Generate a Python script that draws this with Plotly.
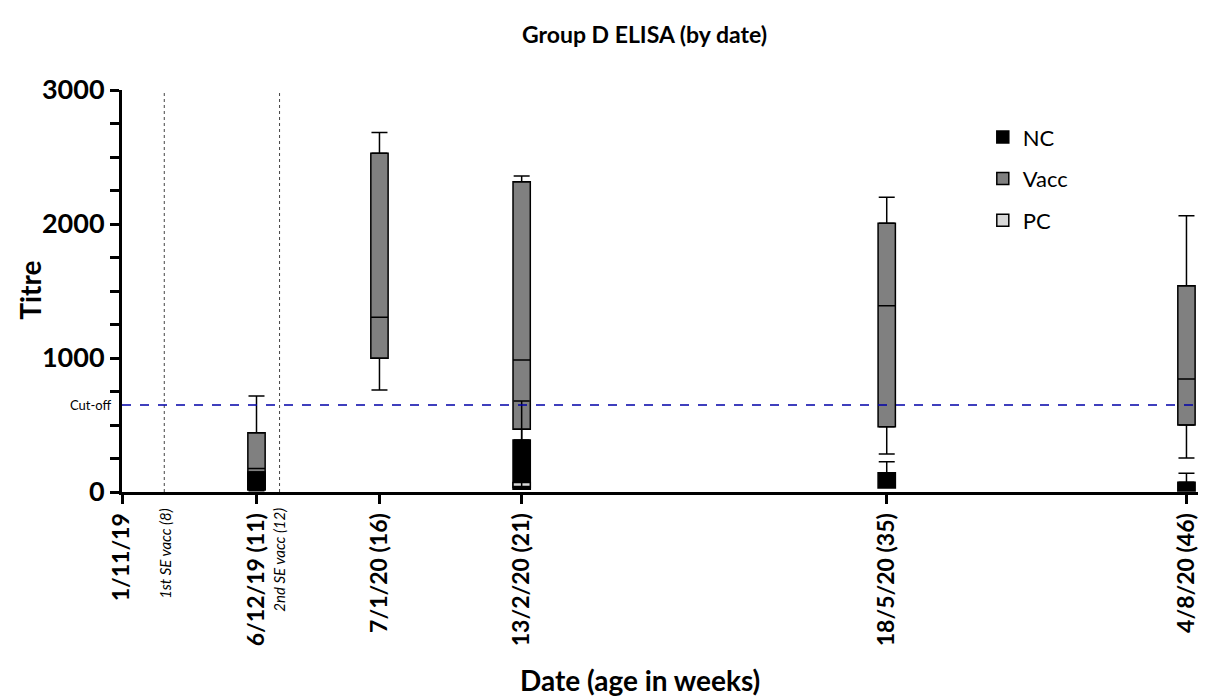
import plotly.graph_objects as go

# ---- data ----
tick_dates = ["2019-11-01", "2019-12-06", "2020-01-07", "2020-02-13", "2020-05-18", "2020-08-04"]
tick_labels = ["1/11/19", "6/12/19 (11)", "7/1/20 (16)", "13/2/20 (21)", "18/5/20 (35)", "4/8/20 (46)"]

vacc_dates = ["2019-11-12", "2019-12-12"]
vacc_labels = ["1st SE vacc (8)", "2nd SE vacc (12)"]

cutoff = 650

vacc_x = ["2019-12-06", "2020-01-07", "2020-02-13", "2020-05-18", "2020-08-04"]
vacc_low = [10, 761, 20, 284, 254]
vacc_q1 = [20, 998, 468, 487, 500]
vacc_med = [175, 1304, 985, 1390, 843]
vacc_q3 = [443, 2528, 2316, 2005, 1540]
vacc_high = [716, 2682, 2358, 2200, 2062]

nc_x = ["2019-12-06", "2020-02-13", "2020-05-18", "2020-08-04"]
nc_q1 = [15, 20, 30, 7]
nc_med = [60, 60, 80, 40]
nc_q3 = [150, 388, 144, 72]
nc_high = [150, 680, 226, 139]

pc_x = ["2020-02-13"]
pc_q1 = [34]
pc_med = [34]
pc_q3 = [70]

FONT = "Lato"
DAY_MS = 86400000
BOX_W = 4.5 * DAY_MS

fig = go.Figure()


def add_box(name, x, q1, med, q3, fill, rank):
    fig.add_trace(go.Box(
        name=name, x=x, q1=q1, median=med, q3=q3,
        lowerfence=q1, upperfence=q3,
        fillcolor=fill, line=dict(color="black", width=1.5),
        width=BOX_W, boxpoints=False, legendgroup=name, legendrank=rank,
        hoverinfo="skip",
    ))


def add_whisker(x, base, ends, up):
    diffs = [abs(e - b) for e, b in zip(ends, base)]
    zeros = [0] * len(base)
    fig.add_trace(go.Scatter(
        x=x, y=base, mode="markers",
        marker=dict(size=1, color="rgba(0,0,0,0)"),
        error_y=dict(type="data", symmetric=False,
                     array=diffs if up else zeros,
                     arrayminus=zeros if up else diffs,
                     color="black", thickness=1.5, width=8),
        showlegend=False, hoverinfo="skip",
    ))


add_box("Vacc", vacc_x, vacc_q1, vacc_med, vacc_q3, "#808080", 2)
add_box("NC", nc_x, nc_q1, nc_med, nc_q3, "#000000", 1)
add_box("PC", pc_x, pc_q1, pc_med, pc_q3, "#d9d9d9", 3)

add_whisker(vacc_x, vacc_q3, vacc_high, True)
add_whisker(vacc_x, vacc_q1, vacc_low, False)
add_whisker(nc_x, nc_q3, nc_high, True)

shapes = []
for d in vacc_dates:
    shapes.append(dict(type="line", xref="x", yref="paper", x0=d, x1=d, y0=0, y1=1,
                       line=dict(color="#444444", width=1, dash="dot"), layer="below"))
shapes.append(dict(type="line", xref="paper", yref="y", x0=0, x1=1, y0=cutoff, y1=cutoff,
                   line=dict(color="#0000a8", width=1.5, dash="dash")))

annotations = []
for d, t in zip(vacc_dates, vacc_labels):
    annotations.append(dict(x=d, y=-0.035, xref="x", yref="paper", text=t, showarrow=False,
                            textangle=-90, xanchor="center", yanchor="top",
                            font=dict(family=FONT, size=15, style="italic", color="black")))
annotations.append(dict(x=0, y=cutoff, xref="paper", yref="y", text="Cut-off", showarrow=False,
                        xanchor="right", yanchor="middle", xshift=-8,
                        font=dict(family=FONT, size=13, color="black")))
annotations.append(dict(x=0.481, y=-0.468, xref="paper", yref="paper", text="Date (age in weeks)",
                        showarrow=False, xanchor="center", yanchor="middle",
                        font=dict(family=FONT, size=28, weight="bold", color="black")))
annotations.append(dict(x=-0.085, y=0.502, xref="paper", yref="paper", text="Titre",
                        showarrow=False, xanchor="center", yanchor="middle", textangle=-90,
                        font=dict(family=FONT, size=28, weight="bold", color="black")))

fig.update_layout(
    width=1201, height=690,
    margin=dict(l=114, r=11, t=82, b=206),
    paper_bgcolor="white", plot_bgcolor="white",
    boxmode="overlay",
    title=dict(text="Group D ELISA (by date)", x=0.53, xanchor="center", y=0.961, yanchor="middle",
               font=dict(family=FONT, size=23, weight="bold", color="black")),
    showlegend=True,
    legend=dict(x=0.8, y=0.935, xanchor="left", yanchor="top",
                font=dict(family=FONT, size=22, color="black"),
                bgcolor="rgba(0,0,0,0)", tracegroupgap=10, traceorder="grouped"),
    shapes=shapes, annotations=annotations,
    xaxis=dict(type="date", range=["2019-11-01", "2020-08-07"],
               tickvals=tick_dates, ticktext=tick_labels, tickangle=-90,
               tickfont=dict(family=FONT, size=23, weight="bold", color="black"),
               ticks="outside", ticklen=9, tickwidth=3, tickcolor="black",
               showline=True, linewidth=3, linecolor="black",
               showgrid=False, zeroline=False, fixedrange=True),
    yaxis=dict(range=[0, 3000], tickvals=[0, 1000, 2000, 3000],
               tickfont=dict(family=FONT, size=27, weight="bold", color="black"),
               ticks="outside", ticklen=9, tickwidth=3, tickcolor="black",
               minor=dict(dtick=250, ticks="outside", ticklen=9, tickwidth=3, tickcolor="black"),
               showline=True, linewidth=3, linecolor="black",
               showgrid=False, zeroline=False, fixedrange=True),
)

fig.write_html("out.html")
